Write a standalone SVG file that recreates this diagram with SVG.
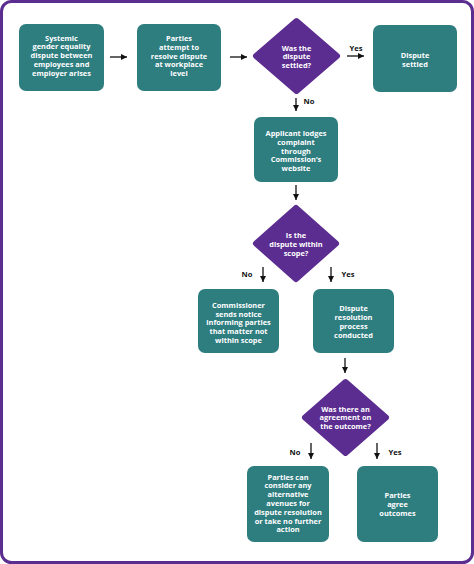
<svg xmlns="http://www.w3.org/2000/svg" width="474" height="564" viewBox="0 0 474 564">
<defs>
<marker id="ah" markerUnits="userSpaceOnUse" markerWidth="7" markerHeight="6" refX="6" refY="3" orient="auto">
<path d="M0,0 L6,3 L0,6 Z" fill="#111"/>
</marker>
<style>
.box{fill:#2e7d7f}
.dia{fill:#5c2d91;stroke:#5c2d91;stroke-width:6;stroke-linejoin:round}
.t{font-family:"Open Sans","Liberation Sans",sans-serif;font-weight:700;font-size:7.4px;fill:#fff;text-anchor:middle}
.l{font-family:"Open Sans","Liberation Sans",sans-serif;font-weight:700;font-size:7.6px;fill:#111;text-anchor:middle}
.c{stroke:#111;stroke-width:1.3;fill:none;marker-end:url(#ah)}
</style>
</defs>
<rect x="0" y="0" width="474" height="564" fill="#fff"/>
<rect x="1.5" y="1.5" width="471" height="561" rx="10" fill="#fff" stroke="#5c2d91" stroke-width="3"/>

<g id="connectors">
<line class="c" x1="110" y1="57" x2="127" y2="57"/>
<line class="c" x1="230" y1="57" x2="247" y2="57"/>
<line class="c" x1="347" y1="56" x2="364" y2="56"/>
<line class="c" x1="296" y1="98" x2="296" y2="111"/>
<line class="c" x1="296" y1="185" x2="296" y2="200"/>
<line class="c" x1="263" y1="267" x2="263" y2="282"/>
<line class="c" x1="331" y1="267" x2="331" y2="282"/>
<line class="c" x1="345" y1="358" x2="345" y2="373"/>
<line class="c" x1="311" y1="443" x2="311" y2="459"/>
<line class="c" x1="377" y1="443" x2="377" y2="459"/>
<text class="l" x="356" y="51">Yes</text>
<text class="l" x="309" y="104">No</text>
<text class="l" x="247" y="277">No</text>
<text class="l" x="348" y="277">Yes</text>
<text class="l" x="295" y="455">No</text>
<text class="l" x="395" y="455">Yes</text>
</g>

<g id="n1">
<rect class="box" x="19" y="24" width="85" height="67" rx="7"/>
<text class="t" x="61.5" y="40.5">Systemic</text>
<text class="t" x="61.5" y="49.3">gender equality</text>
<text class="t" x="61.5" y="58.1">dispute between</text>
<text class="t" x="61.5" y="66.9">employees and</text>
<text class="t" x="61.5" y="75.7">employer arises</text>
</g>

<g id="n2">
<rect class="box" x="137" y="24" width="84" height="67" rx="7"/>
<text class="t" x="179" y="41">Parties</text>
<text class="t" x="179" y="49.8">attempt to</text>
<text class="t" x="179" y="58.6">resolve dispute</text>
<text class="t" x="179" y="67.4">at workplace</text>
<text class="t" x="179" y="76.2">level</text>
</g>

<g id="d1">
<polygon class="dia" points="296.5,21 337,56 296.5,91 256,56"/>
<text class="t" x="296.5" y="50.5">Was the</text>
<text class="t" x="296.5" y="59.3">dispute</text>
<text class="t" x="296.5" y="68.1">settled?</text>
</g>

<g id="n3">
<rect class="box" x="373" y="25" width="84" height="67" rx="7"/>
<text class="t" x="415" y="58">Dispute</text>
<text class="t" x="415" y="66.8">settled</text>
</g>

<g id="n4">
<rect class="box" x="254" y="117" width="84" height="65" rx="7"/>
<text class="t" x="296" y="136">Applicant lodges</text>
<text class="t" x="296" y="144.8">complaint</text>
<text class="t" x="296" y="153.6">through</text>
<text class="t" x="296" y="162.4">Commission’s</text>
<text class="t" x="296" y="171.2">website</text>
</g>

<g id="d2">
<polygon class="dia" points="296,208 336,243.5 296,279 256,243.5"/>
<text class="t" x="296" y="238">Is the</text>
<text class="t" x="296" y="246.8">dispute within</text>
<text class="t" x="296" y="255.6">scope?</text>
</g>

<g id="n5">
<rect class="box" x="198" y="289" width="81" height="64" rx="7"/>
<text class="t" x="238.5" y="308">Commissioner</text>
<text class="t" x="238.5" y="316.7">sends notice</text>
<text class="t" x="238.5" y="325.4">informing parties</text>
<text class="t" x="238.5" y="334.1">that matter not</text>
<text class="t" x="238.5" y="342.8">within scope</text>
</g>

<g id="n6">
<rect class="box" x="313" y="289" width="81" height="64" rx="7"/>
<text class="t" x="353.5" y="311.2">Dispute</text>
<text class="t" x="353.5" y="320">resolution</text>
<text class="t" x="353.5" y="328.8">process</text>
<text class="t" x="353.5" y="337.6">conducted</text>
</g>

<g id="d3">
<polygon class="dia" points="345.5,382 386,417.5 345.5,453 305,417.5"/>
<text class="t" x="345.5" y="411.5">Was there an</text>
<text class="t" x="345.5" y="420.3">agreement on</text>
<text class="t" x="345.5" y="429.1">the outcome?</text>
</g>

<g id="n7">
<rect class="box" x="247" y="466" width="82" height="76" rx="7"/>
<text class="t" x="288" y="479.6">Parties can</text>
<text class="t" x="288" y="488.4">consider any</text>
<text class="t" x="288" y="497.2">alternative</text>
<text class="t" x="288" y="506">avenues for</text>
<text class="t" x="288" y="514.8">dispute resolution</text>
<text class="t" x="288" y="523.6">or take no further</text>
<text class="t" x="288" y="532.4">action</text>
</g>

<g id="n8">
<rect class="box" x="357" y="466" width="81" height="76" rx="7"/>
<text class="t" x="397.5" y="498.2">Parties</text>
<text class="t" x="397.5" y="507">agree</text>
<text class="t" x="397.5" y="515.8">outcomes</text>
</g>
</svg>
